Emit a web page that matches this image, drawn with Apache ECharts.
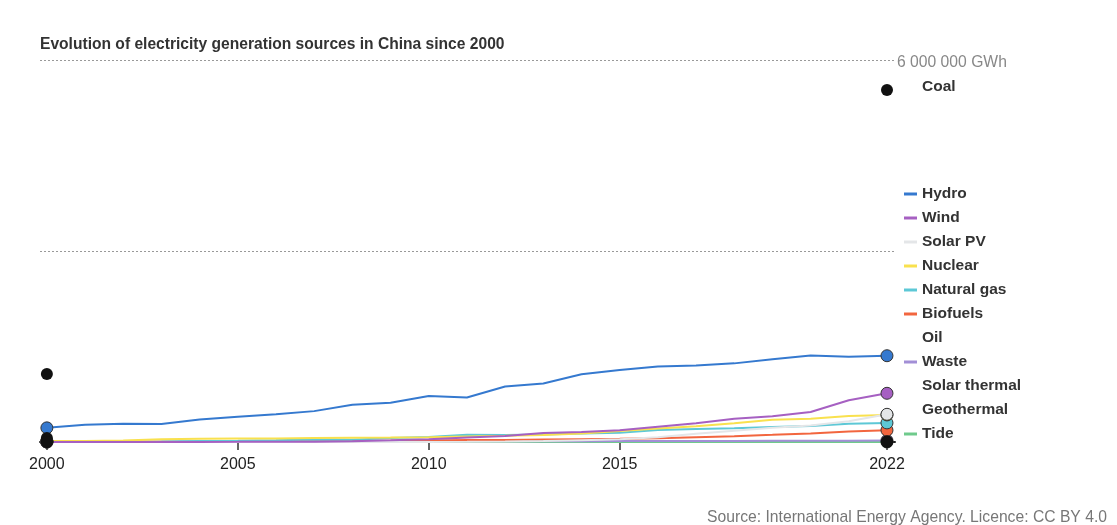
<!DOCTYPE html>
<html>
<head>
<meta charset="utf-8">
<script src="https://cdn.jsdelivr.net/npm/echarts@6/dist/echarts.min.js"></script>
<style>
  html, body { margin: 0; padding: 0; background: #fff; }
  #chart { width: 1117px; height: 525px; }
</style>
</head>
<body>
<div id="chart"></div>
<script>
// years on the x axis
var years = [2000, 2001, 2002, 2003, 2004, 2005, 2006, 2007, 2008, 2009, 2010, 2011,
  2012, 2013, 2014, 2015, 2016, 2017, 2018, 2019, 2020, 2021, 2022];
var xTicks = [2000, 2005, 2010, 2015, 2022];
var yTicks = [0, 3000000, 6000000];

// generation, GWh
var hydro = [222000, 270000, 285000, 284000, 354000, 397000, 436000, 485000, 585000, 616000, 722000, 699000,
  872000, 920000, 1064000, 1130000, 1185000, 1200000, 1235000, 1300000, 1360000, 1340000, 1355000];
var wind = [600, 700, 900, 1000, 1300, 2000, 3700, 5700, 13000, 27000, 45000, 70000,
  96000, 141000, 156000, 186000, 241000, 295000, 366000, 406000, 470000, 656000, 765000];
var solarPV = [20, 30, 50, 60, 80, 80, 100, 100, 200, 300, 700, 2600,
  6400, 15500, 29200, 44800, 75300, 130700, 177500, 224000, 261000, 327000, 435000];
var nuclear = [16700, 17500, 25100, 43300, 50500, 53100, 54800, 62100, 68400, 70100, 73900, 86400,
  97400, 111600, 132500, 171400, 213300, 248100, 295000, 348700, 366200, 407500, 425000];
var naturalGas = [5800, 4800, 5600, 7100, 15000, 20000, 28200, 39000, 35000, 64000, 78000, 112000,
  110000, 116000, 133000, 145000, 188000, 203000, 215000, 236000, 253000, 287000, 300000];
var biofuels = [2400, 2500, 2600, 2700, 2900, 3000, 6000, 10000, 14000, 20000, 25000, 31000,
  33000, 38000, 44000, 50000, 60000, 75000, 90000, 112000, 135000, 163000, 185000];
var oil = [62000, 47000, 48000, 52000, 50000, 48000, 50000, 43000, 33000, 28000, 13000, 8000,
  6000, 6000, 9000, 9000, 10000, 10000, 10000, 12000, 11000, 11000, 11000];
var waste = [1000, 1200, 1500, 2000, 2500, 3000, 4000, 5000, 6000, 7000, 9000, 10000,
  11000, 12000, 13000, 14000, 15000, 16000, 17000, 18000, 19000, 20000, 22000];
var solarThermal = [0, 0, 0, 0, 0, 0, 0, 0, 0, 0, 0, 0,
  0, 20, 30, 40, 100, 200, 300, 1000, 1500, 1800, 2000];
var geothermal = [100, 100, 100, 100, 100, 100, 100, 100, 100, 100, 100, 100,
  100, 100, 100, 130, 130, 130, 130, 130, 130, 130, 130];
var tide = [10, 10, 10, 10, 10, 10, 10, 10, 10, 10, 10, 10,
  10, 10, 10, 10, 10, 10, 10, 10, 10, 10, 10];
// coal line is not drawn in the picture, only its two end dots
var coal = [1068000, null, null, null, null, null, null, null, null, null, null, null,
  null, null, null, null, null, null, null, null, null, null, 5530000];

var myChart = echarts.init(document.getElementById('chart'));
var last = years.length - 1;

function pairs(arr) {
  return years.map(function (y, i) { return [y, arr[i]]; });
}

// coloured series: line + ringed circle at both ends
function lineSeries(name, arr, color) {
  return {
    name: name,
    type: 'line',
    data: pairs(arr),
    color: color,
    showAllSymbol: true,
    symbol: 'circle',
    symbolSize: function (v, p) {
      return (p.dataIndex === 0 || p.dataIndex === last) ? 12 : 0;
    },
    lineStyle: { width: 2, color: color },
    itemStyle: { color: color, borderColor: '#333', borderWidth: 1 },
    emphasis: { disabled: true }
  };
}

// black series: no visible line, only black end dots
function dotSeries(name, arr) {
  return {
    name: name,
    type: 'line',
    data: pairs(arr),
    color: '#111',
    showAllSymbol: true,
    symbol: 'circle',
    symbolSize: function (v, p) {
      return (p.dataIndex === 0 || p.dataIndex === last) ? 12 : 0;
    },
    lineStyle: { width: 0, opacity: 0 },
    itemStyle: { color: '#111', borderWidth: 0 },
    emphasis: { disabled: true }
  };
}

var legendText = { fontSize: 15.5, fontWeight: 'bold', color: '#333', lineHeight: 16 };

var option = {
  animation: false,
  textStyle: { fontFamily: 'Liberation Sans, Arial, sans-serif' },
  title: {
    text: 'Evolution of electricity generation sources in China since 2000',
    left: 40,
    top: 37,
    padding: 0,
    textStyle: { fontSize: 15.6, fontWeight: 'bold', color: '#333' }
  },
  grid: { left: 40, right: 222, top: 60, bottom: 83 },
  legend: [{
    orient: 'vertical',
    left: 904,
    top: 186,
    padding: 0,
    icon: 'rect',
    itemWidth: 13,
    itemHeight: 3,
    itemGap: 8,
    selectedMode: false,
    itemStyle: { borderWidth: 0 },
    textStyle: legendText,
    data: [
      'Hydro', 'Wind', 'Solar PV', 'Nuclear', 'Natural gas', 'Biofuels',
      { name: 'Oil', itemStyle: { opacity: 0 } },
      'Waste',
      { name: 'Solar thermal', itemStyle: { opacity: 0 } },
      { name: 'Geothermal', itemStyle: { opacity: 0 } },
      'Tide'
    ]
  }, {
    orient: 'vertical',
    left: 904,
    top: 79,
    padding: 0,
    icon: 'rect',
    itemWidth: 13,
    itemHeight: 3,
    selectedMode: false,
    itemStyle: { borderWidth: 0 },
    textStyle: legendText,
    data: [{ name: 'Coal', itemStyle: { opacity: 0 } }]
  }],
  xAxis: {
    type: 'value',
    min: 1999.82,
    max: 2022.21,
    splitLine: { show: false },
    axisLine: { show: true, lineStyle: { color: '#222', width: 2 } },
    axisTick: {
      show: true,
      customValues: xTicks,
      length: 8,
      lineStyle: { color: '#333', width: 1.5 }
    },
    axisLabel: {
      customValues: xTicks,
      fontSize: 16,
      color: '#222',
      margin: 15,
      formatter: function (v) { return String(v); }
    }
  },
  yAxis: {
    type: 'value',
    position: 'right',
    min: 0,
    max: 6000000,
    interval: 3000000,
    axisLine: { show: false },
    axisTick: { show: false },
    splitLine: { show: true, lineStyle: { type: [2, 2], color: '#999', width: 1 } },
    axisLabel: {
      margin: 2,
      customValues: [6000000],
      formatter: function (v) { return v === 6000000 ? '{u|6 000 000 GWh}' : ''; },
      rich: {
        u: { fontSize: 15.7, color: '#888', padding: [5, 0, 0, 0] }
      }
    }
  },
  graphic: [{
    type: 'text',
    right: 10,
    top: 510,
    style: {
      text: 'Source: International Energy Agency. Licence: CC BY 4.0',
      fill: '#777',
      font: '15.7px Liberation Sans, Arial, sans-serif'
    }
  }],
  series: [
    lineSeries('Tide', tide, '#6fca8c'),
    lineSeries('Waste', waste, '#a28fd6'),
    lineSeries('Biofuels', biofuels, '#f2663f'),
    lineSeries('Natural gas', naturalGas, '#5dc8d6'),
    lineSeries('Nuclear', nuclear, '#f9e14e'),
    lineSeries('Solar PV', solarPV, '#e4e6e8'),
    lineSeries('Wind', wind, '#a660c2'),
    lineSeries('Hydro', hydro, '#3579cf'),
    dotSeries('Oil', oil),
    dotSeries('Solar thermal', solarThermal),
    dotSeries('Geothermal', geothermal),
    dotSeries('Coal', coal)
  ]
};

myChart.setOption(option, true);
window.addEventListener('resize', function () {
  if (myChart) {
    myChart.resize();
  }
});
</script>
</body>
</html>
